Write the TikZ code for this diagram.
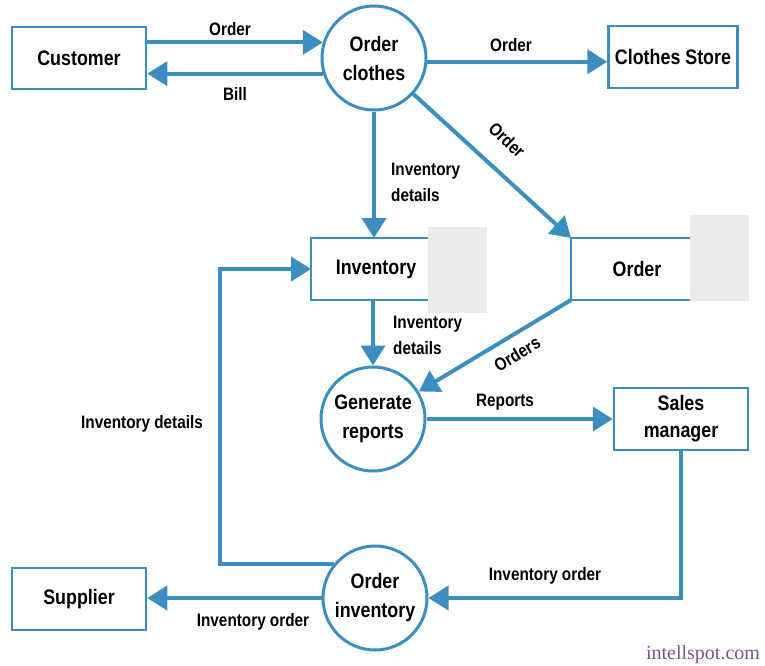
\documentclass[tikz,border=0pt]{standalone}
\usepackage{fontspec}
\setmainfont{Liberation Sans}[FakeStretch=0.85]
\newfontfamily\wmfont{Liberation Serif}
\usetikzlibrary{arrows.meta}
\definecolor{dfdblue}{RGB}{58,143,192}
\definecolor{storegray}{RGB}{235,235,237}
\definecolor{wmpurple}{RGB}{128,80,140}
\tikzset{
  x=1pt,y=-1pt,
  box/.style={draw=dfdblue,line width=2.5pt,fill=white,minimum width=134pt,minimum height=62pt,align=center,inner sep=2pt,
    font=\fontsize{21}{27}\selectfont\bfseries},
  proc/.style={circle,draw=dfdblue,line width=3pt,fill=white,minimum size=104pt,align=center,inner sep=0pt,
    font=\fontsize{21}{29}\selectfont\bfseries},
  storetext/.style={font=\fontsize{21}{27}\selectfont\bfseries},
  storeline/.style={draw=dfdblue,line width=2.5pt},
  graybox/.style={fill=storegray,draw=none},
  arr/.style={draw=dfdblue,line width=4pt,-{Triangle[length=20pt,width=24pt]}},
  lbl/.style={font=\fontsize{18}{26}\selectfont\bfseries,inner sep=1pt,align=left},
}
\begin{document}
\begin{tikzpicture}
\useasboundingbox (0,0) rectangle (765,665);
% entities and processes
\node[box] (cust) at (79,58) {Customer};
\node[proc] (oc) at (374,58) {Order\\clothes};
\node[box,minimum width=129pt] (cs) at (673,57) {Clothes Store};
\node[proc] (gr) at (373,419) {Generate\\reports};
\node[box] (sm) at (681,419) {Sales\\manager};
\node[proc] (oi) at (375,598) {Order\\inventory};
\node[box] (sup) at (79,599) {Supplier};
% data stores
\coordinate (invNW) at (311,238);
\coordinate (invSW) at (311,300);
\coordinate (invNE) at (440,238);
\coordinate (invSE) at (440,300);
\coordinate (invW) at (311,269);
\draw[storeline] (invNE) -- (invNW) -- (invSW) -- (invSE);
\fill[graybox] (428,227) rectangle (487,313);
\node[storetext] (invt) at (376,269) {Inventory};
\coordinate (ordNW) at (571,238);
\coordinate (ordSW) at (571,300);
\coordinate (ordNE) at (705,238);
\coordinate (ordSE) at (705,300);
\draw[storeline] (ordNE) -- (ordNW) -- (ordSW) -- (ordSE);
\fill[graybox] (690,215) rectangle (749,301);
\node[storetext] (ordt) at (637,269) {Order};
% flows
\draw[arr] (cust.east |- oc.163) -- (oc.163);
\draw[arr] (oc.197) -- (cust.east |- oc.197);
\draw[arr] (oc.-4) -- (cs.west |- oc.-4);
\draw[arr] (oc) -- (ordNW);
\draw[arr] (oc.south) -- (oc.south |- invNW);
\draw[arr] (gr.north |- invSW) -- (gr.north);
\draw[arr] (ordSW) -- (gr);
\draw[arr] (gr.east) -- (sm.west |- gr.east);
\draw[arr] (sm.south) |- (oi.east);
\draw[arr] (oi.west) -- (sup.east |- oi.west);
\coordinate (loopc) at (220,269);
\draw[arr] (oi.140) -| (loopc) -- (invW);
% labels
\node[lbl] (l1) at (230,29) {Order};
\node[lbl] (l2) at (235,94) {Bill};
\node[lbl] (l3) at (511,45) {Order};
\node[lbl,rotate=-43] (l4) at (507,140) {Order};
\node[lbl,anchor=west] (l5) at (390,182) {Inventory\\details};
\node[lbl,anchor=west] (l6) at (392,335) {Inventory\\details};
\node[lbl,rotate=31] (l7) at (517,354) {Orders};
\node[lbl] (l8) at (505,402) {Reports};
\node[lbl] (l9) at (142,424) {Inventory details};
\node[lbl] (l10) at (545,576) {Inventory order};
\node[lbl] (l11) at (253,622) {Inventory order};
\node[font=\wmfont\fontsize{20}{22}\selectfont,text=wmpurple,inner sep=0pt] (wm) at (703,655) {intellspot.com};
\end{tikzpicture}
\end{document}
